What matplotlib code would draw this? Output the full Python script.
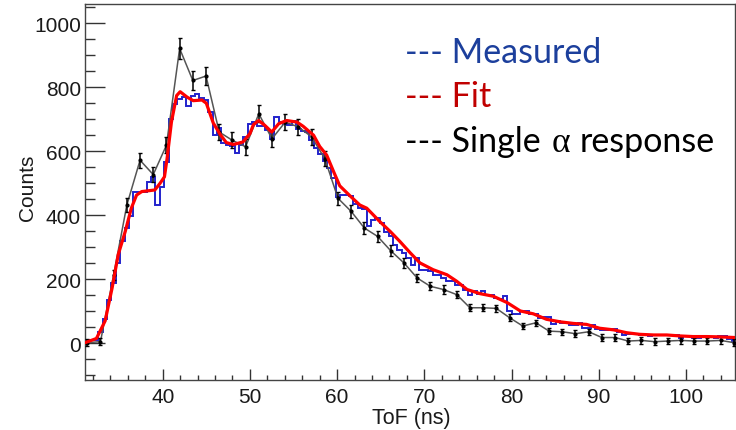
import numpy as np
import matplotlib
matplotlib.use("Agg")
import matplotlib.pyplot as plt
from matplotlib.ticker import MultipleLocator

# ---------------- data ----------------
# Measured histogram: bins of ~0.504 ns starting at 30.594 ns
meas_first_edge = 30.594
meas_bin_width = 0.5043
measured = [
    10, 10, 10, 10, 36, 75, 135, 189, 251, 320,
    360, 398, 474, 474, 474, 505, 520, 432, 489, 567,
    702, 748, 764, 769, 741, 772, 778, 766, 760, 722,
    650, 672, 627, 618, 615, 593, 620, 645, 686, 690,
    679, 679, 665, 639, 707, 690, 686, 683, 696, 670,
    662, 660, 634, 610, 590, 570, 548, 515, 458, 462,
    463, 460, 434, 422, 420, 365, 386, 390, 375, 349,
    334, 308, 292, 282, 266, 246, 266, 230, 228, 225,
    214, 214, 205, 196, 196, 183, 183, 168, 152, 163,
    155, 163, 150, 150, 140, 137, 147, 101, 90, 90,
    101, 101, 92, 92, 78, 82, 82, 59, 71, 64,
    64, 57, 57, 64, 49, 49, 57, 46, 43, 43,
    46, 46, 36, 26, 30, 30, 28, 26, 26, 23,
    26, 26, 26, 26, 26, 26, 18, 23, 23, 18,
    18, 23, 20, 20, 18, 23, 23, 13, 8,
]

# Fit curve (sampled points)
fit_t = [31.1, 32.4, 33.4, 34.2, 34.9, 35.7, 36.4, 37.0, 37.6, 38.5, 39.1, 39.7,
         40.2, 40.5, 41.0, 41.6, 42.0, 42.8, 43.5, 44.5, 45.0, 45.8, 46.6, 47.3,
         48.1, 49.2, 50.0, 50.4, 51.0, 51.7, 52.5, 53.3, 54.2, 55.4, 56.1, 57.3,
         58.0, 58.8, 59.6, 60.3, 61.5, 62.6, 63.4, 64.9, 66.1, 67.2, 68.4, 69.5,
         71.0, 72.6, 73.7, 74.9, 76.4, 77.9, 79.5, 81.0, 82.5, 84.0, 85.6, 87.1,
         88.6, 90.1, 91.7, 93.2, 94.7, 96.3, 97.8, 99.3, 100.8, 102.4, 103.9, 105.6]
fit_counts = [2, 15, 70, 173, 277, 349, 422, 463, 474, 477, 479, 500,
              520, 577, 691, 774, 786, 769, 758, 760, 750, 688, 652, 627,
              621, 629, 655, 683, 696, 681, 660, 686, 696, 691, 678, 650,
              615, 588, 536, 492, 460, 432, 422, 380, 349, 318, 282, 251,
              230, 214, 194, 168, 155, 147, 127, 101, 92, 75, 67, 62,
              59, 47, 42, 33, 28, 26, 26, 23, 21, 21, 20, 18]

# Single alpha response: points every ~1.513 ns starting at 31.35 ns
single_first = 31.35
single_step = 1.513
single = [2, 5, 214, 432, 572, 527, 619, 921, 821, 835,
          660, 634, 614, 717, 639, 691, 676, 645, 577, 453,
          412, 360, 334, 289, 251, 204, 178, 168, 152, 111,
          111, 109, 80, 54, 64, 38, 36, 30, 36, 18,
          18, 7, 9, 5, 7, 9, 7, 7, 9, 2]
single_err = [10, 10, 15, 21, 24, 23, 25, 32, 29, 29,
              26, 25, 25, 27, 25, 26, 26, 25, 24, 21,
              20, 19, 18, 17, 16, 14, 13, 13, 12, 11,
              11, 11, 10, 10, 10, 10, 10, 10, 10, 10,
              10, 10, 10, 10, 10, 10, 10, 10, 10, 10]

x_ticks = [40, 50, 60, 70, 80, 90, 100]
y_ticks = [0, 200, 400, 600, 800, 1000]
x_label = "ToF (ns)"
y_label = "Counts"

# ---------------- figure ----------------
W, H = 736, 431
fig = plt.figure(figsize=(W / 100, H / 100), dpi=100)
ax = fig.add_axes([85 / W, 50 / H, 650 / W, 376 / H])

edges = meas_first_edge + meas_bin_width * np.arange(len(measured) + 1)
ax.stairs(measured, edges, baseline=None, color="#2222cc", lw=1.4, zorder=2)

sx = single_first + single_step * np.arange(len(single))
ax.plot(sx, single, color="#555555", lw=1.1, zorder=3)
ax.errorbar(sx, single, yerr=single_err, fmt="o", color="black", ms=2.0,
            elinewidth=1.1, capsize=1.2, capthick=1.0, zorder=4)

ax.plot(fit_t, fit_counts, color="#ff0000", lw=2.3, zorder=5,
        solid_joinstyle="round", solid_capstyle="round")

ax.set_xlim(31.09, 105.62)
ax.set_ylim(-114.7, 1060)

sans = ["Liberation Sans", "DejaVu Sans"]
tick_font = dict(family=sans, size=15)
ax.set_xticks(x_ticks)
ax.set_yticks(y_ticks)
ax.set_xticklabels([str(v) for v in x_ticks], **tick_font, color="#1a1a1a")
ax.set_yticklabels([str(v) for v in y_ticks], **tick_font, color="#1a1a1a")
ax.xaxis.set_minor_locator(MultipleLocator(2))
ax.yaxis.set_minor_locator(MultipleLocator(50))
ax.tick_params(axis="x", which="major", direction="in", length=7.9, width=1.0,
               color="#333333", pad=5.0, top=False)
ax.tick_params(axis="x", which="minor", direction="in", length=3.8, width=1.0,
               color="#333333", top=False)
ax.tick_params(axis="y", which="major", direction="in", length=14.4, width=1.0,
               color="#333333", pad=2.8, right=False)
ax.tick_params(axis="y", which="minor", direction="in", length=7.2, width=1.0,
               color="#333333", right=False)
for s in ax.spines.values():
    s.set_color("#444444")
    s.set_linewidth(1.0)

fig.text(411 / W, 1 - 424 / H, x_label, ha="center", va="baseline",
         family=sans, size=15.5, color="#1a1a1a")
fig.text(27.5 / W, 1 - 187.5 / H, y_label, ha="center", va="center", rotation=90,
         family=sans, size=15, color="#1a1a1a")

# legend-like annotation
leg_font = ["Lato", "DejaVu Sans"]
fs = 24.5
fig.text(405 / W, 1 - 63.3 / H, "--- Measured", ha="left", va="baseline",
         family=leg_font, size=fs, color="#1c3f9c")
fig.text(405 / W, 1 - 107.3 / H, "--- Fit", ha="left", va="baseline",
         family=leg_font, size=fs, color="#c00000")
fig.text(405 / W, 1 - 151.7 / H, "--- Single", ha="left", va="baseline",
         family=leg_font, size=fs, color="black")
fig.text(552 / W, 1 - 151.7 / H, "\u03b1", ha="left", va="baseline",
         family=["Liberation Serif", "DejaVu Serif"], size=fs + 1, color="black")
fig.text(580 / W, 1 - 151.7 / H, "response", ha="left", va="baseline",
         family=leg_font, size=fs, color="black")

fig.savefig("out.png", dpi=100)
